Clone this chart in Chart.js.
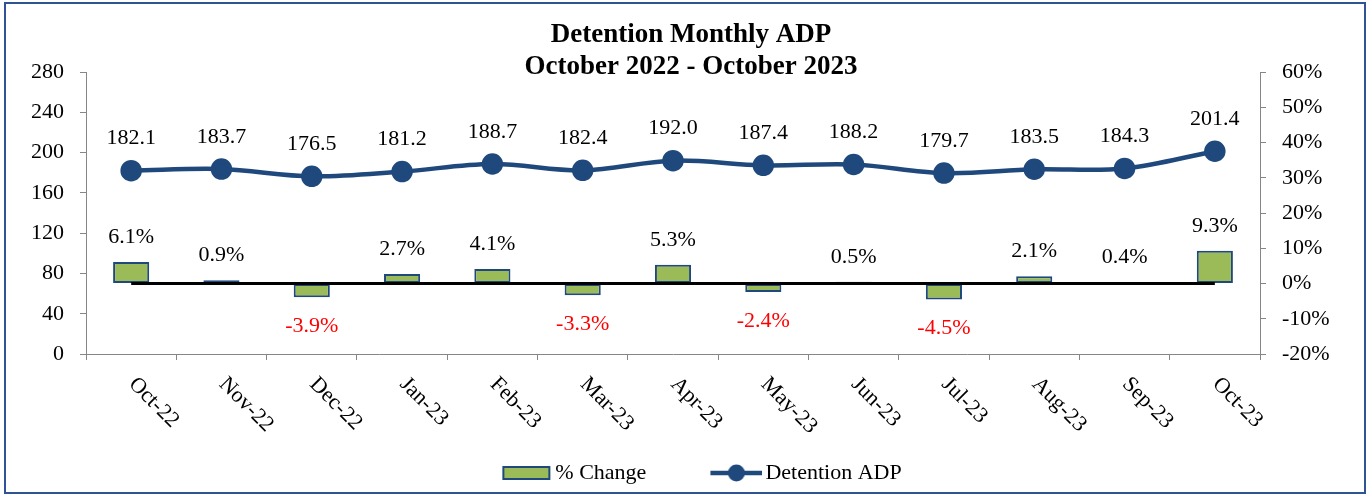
<!DOCTYPE html>
<html>
<head>
<meta charset="utf-8">
<title>Detention Monthly ADP</title>
<script src="https://cdn.jsdelivr.net/npm/chart.js@4.4.0/dist/chart.umd.min.js"></script>
<style>
  html, body { margin: 0; padding: 0; background: #fff; }
  #wrap { position: relative; width: 1367px; height: 495px; }
  #frame { position: absolute; left: 4px; top: 2px; width: 1358px; height: 488px; border: 2px solid #2f5496; }
  #chart { position: absolute; left: 0; top: 0; }
</style>
</head>
<body>
<div id="wrap">
  <div id="frame"></div>
  <canvas id="chart" width="1367" height="495"></canvas>
</div>
<script>
const months = ['Oct-22', 'Nov-22', 'Dec-22', 'Jan-23', 'Feb-23', 'Mar-23', 'Apr-23',
                'May-23', 'Jun-23', 'Jul-23', 'Aug-23', 'Sep-23', 'Oct-23'];
const adp = [182.1, 183.7, 176.5, 181.2, 188.7, 182.4, 192.0, 187.4, 188.2, 179.7, 183.5, 184.3, 201.4];
const pctChange = [6.1, 0.9, -3.9, 2.7, 4.1, -3.3, 5.3, -2.4, 0.5, -4.5, 2.1, 0.4, 9.3];
const adpTicks = [0, 40, 80, 120, 160, 200, 240, 280];
const pctTicks = [-20, -10, 0, 10, 20, 30, 40, 50, 60];

const NAVY = '#1f497d';
const GREEN = '#9bbb59';
const AXIS = '#868686';
const FONT = "'Liberation Serif', 'Times New Roman', serif";

Chart.defaults.font.family = FONT;
Chart.defaults.font.size = 22;
Chart.defaults.color = '#000';

// little canvases used as legend symbols (box for bars, line+dot for the line)
function legendSymbol(kind) {
    const c = document.createElement('canvas');
    c.width = 60;
    c.height = 20;
    const g = c.getContext('2d');
    if (kind === 'bar') {
        g.fillStyle = GREEN;
        g.strokeStyle = NAVY;
        g.lineWidth = 2;
        g.fillRect(11, 4, 46, 12);
        g.strokeRect(11, 4, 46, 12);
    } else {
        g.strokeStyle = NAVY;
        g.lineWidth = 4.5;
        g.beginPath();
        g.moveTo(8, 10);
        g.lineTo(60, 10);
        g.stroke();
        g.fillStyle = NAVY;
        g.beginPath();
        g.arc(34, 10, 8.5, 0, Math.PI * 2);
        g.fill();
    }
    return c;
}

const barSymbol = legendSymbol('bar');
const lineSymbol = legendSymbol('line');

// black 0% line from first to last month
const zeroLine = {
    id: 'zeroLine',
    afterDatasetsDraw(chart) {
        const { ctx, scales } = chart;
        const y = scales.y1.getPixelForValue(0);
        ctx.save();
        ctx.strokeStyle = '#000';
        ctx.lineWidth = 3;
        ctx.beginPath();
        ctx.moveTo(scales.x.getPixelForValue(0), y);
        ctx.lineTo(scales.x.getPixelForValue(months.length - 1), y);
        ctx.stroke();
        ctx.restore();
    }
};

const valueLabels = {
    id: 'valueLabels',
    afterDatasetsDraw(chart) {
        const ctx = chart.ctx;
        ctx.save();
        ctx.font = '22px ' + FONT;
        ctx.textAlign = 'center';
        ctx.textBaseline = 'middle';

        chart.getDatasetMeta(0).data.forEach((pt, i) => {
            ctx.fillStyle = '#000';
            ctx.fillText(adp[i].toFixed(1), pt.x, pt.y - 32);
        });

        chart.getDatasetMeta(1).data.forEach((bar, i) => {
            const v = pctChange[i];
            const text = v.toFixed(1) + '%';
            if (v < 0) {
                ctx.fillStyle = '#ff0000';
                ctx.fillText(text, bar.x, bar.y + 29);
            } else {
                ctx.fillStyle = '#000';
                ctx.fillText(text, bar.x, bar.y - 25);
            }
        });
        ctx.restore();
    }
};

// month labels slanting down to the right
const slantedMonths = {
    id: 'slantedMonths',
    afterDraw(chart) {
        const { ctx, scales: { x } } = chart;
        ctx.save();
        ctx.font = '22px ' + FONT;
        ctx.fillStyle = '#000';
        ctx.textAlign = 'left';
        ctx.textBaseline = 'middle';
        months.forEach((m, i) => {
            ctx.save();
            ctx.translate(x.getPixelForValue(i) + 1, x.top + 27);
            ctx.rotate(Math.PI / 4);
            ctx.fillText(m, 0, 0);
            ctx.restore();
        });
        ctx.restore();
    }
};

// legend sits a bit right of the title centre in the original
const legendNudge = {
    id: 'legendNudge',
    afterLayout(chart) {
        chart.legend.left += 10;
        chart.legend.right += 10;
    }
};

new Chart(document.getElementById('chart'), {
    type: 'bar',
    data: {
        labels: months,
        datasets: [
            {
                type: 'line',
                label: 'Detention ADP',
                data: adp,
                yAxisID: 'y',
                borderColor: NAVY,
                backgroundColor: NAVY,
                borderWidth: 4.5,
                pointRadius: 8.5,
                pointHoverRadius: 8.5,
                tension: 0.35
            },
            {
                type: 'bar',
                label: '% Change',
                data: pctChange,
                yAxisID: 'y1',
                backgroundColor: GREEN,
                borderColor: NAVY,
                borderWidth: 2,
                borderSkipped: false,
                barPercentage: 0.4,
                categoryPercentage: 1
            }
        ]
    },
    options: {
        responsive: false,
        animation: false,
        layout: { padding: { left: 15, right: 0, top: 0, bottom: 1 } },
        plugins: {
            title: {
                display: true,
                text: ['Detention Monthly ADP', 'October 2022 - October 2023'],
                color: '#000',
                font: { size: 27, weight: 'bold', lineHeight: 1.15 },
                padding: { top: 20, bottom: -10 }
            },
            legend: {
                position: 'bottom',
                labels: {
                    usePointStyle: true,
                    pointStyleWidth: 44,
                    boxHeight: 22,
                    padding: 64,
                    color: '#000',
                    font: { size: 22 },
                    generateLabels: () => [
                        { text: '% Change', pointStyle: barSymbol, datasetIndex: 1, lineWidth: 0, hidden: false, fontColor: '#000' },
                        { text: 'Detention ADP', pointStyle: lineSymbol, datasetIndex: 0, lineWidth: 0, hidden: false, fontColor: '#000' }
                    ]
                }
            },
            tooltip: { enabled: false }
        },
        scales: {
            x: {
                offset: true,
                grid: { offset: true, drawOnChartArea: false, drawTicks: true, tickLength: 6, color: AXIS },
                border: { color: AXIS },
                ticks: { display: false },
                afterFit(scale) { scale.height = 44; }
            },
            y: {
                position: 'left',
                min: 0,
                max: 280,
                afterBuildTicks(scale) { scale.ticks = adpTicks.map(v => ({ value: v })); },
                grid: { drawOnChartArea: false, tickLength: 6, color: AXIS },
                border: { color: AXIS },
                ticks: { padding: 16, color: '#000' },
                afterFit(scale) { scale.width = 71; }
            },
            y1: {
                position: 'right',
                min: -20,
                max: 60,
                afterBuildTicks(scale) { scale.ticks = pctTicks.map(v => ({ value: v })); },
                grid: { drawOnChartArea: false, tickLength: 6, color: AXIS },
                border: { color: AXIS },
                ticks: { padding: 16, color: '#000', callback: v => v + '%' },
                afterFit(scale) { scale.width = 107; }
            }
        }
    },
    plugins: [zeroLine, valueLabels, slantedMonths, legendNudge]
});
</script>
</body>
</html>
